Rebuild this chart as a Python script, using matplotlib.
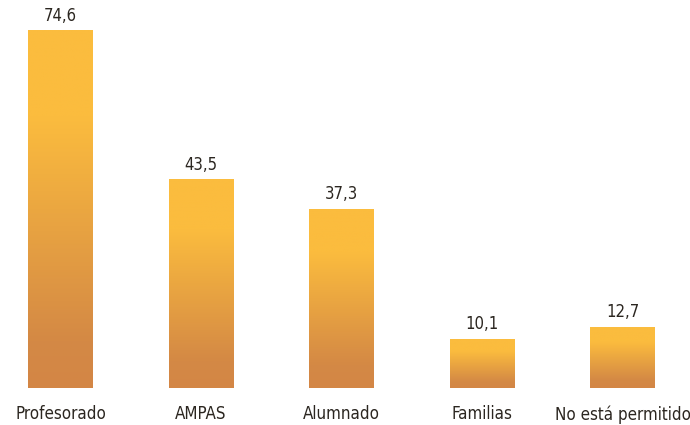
import numpy as np
import matplotlib.pyplot as plt
from matplotlib.colors import LinearSegmentedColormap

categories = ["Profesorado", "AMPAS", "Alumnado", "Familias", "No está permitido"]
values = [74.6, 43.5, 37.3, 10.1, 12.7]
value_labels = ["74,6", "43,5", "37,3", "10,1", "12,7"]

font = ["DejaVu Sans"]
text_color = "#2b2620"

cmap = LinearSegmentedColormap.from_list(
    "bar", [(0.0, "#d38645"), (0.13, "#d48945"), (0.76, "#fbbc3e"), (1.0, "#fbbc3e")])

fig = plt.figure(figsize=(6.9, 4.25), dpi=100)
ax = fig.add_axes([0, 37 / 425, 1, 388 / 425])

x = np.arange(len(categories))
width = 0.462
grad = np.linspace(0, 1, 256).reshape(-1, 1)

for xi, v, lab in zip(x, values, value_labels):
    ax.imshow(grad, cmap=cmap, origin="lower", aspect="auto",
              extent=(xi - width / 2, xi + width / 2, 0, v), zorder=2)
    ax.text(xi, v + 1.3, lab, ha="center", va="bottom", fontsize=12,
            color=text_color, family=font, fontstretch="condensed")

for xi, c in zip(x, categories):
    ax.text(xi, -3.6, c, ha="center", va="top", fontsize=12.2,
            color=text_color, family=font, fontstretch="condensed")

ax.set_xlim(-60.5 / 140.6, (690 - 60.5) / 140.6)
ax.set_ylim(0, 388 / 4.786)
ax.axis("off")

fig.savefig("out.png", dpi=100)
